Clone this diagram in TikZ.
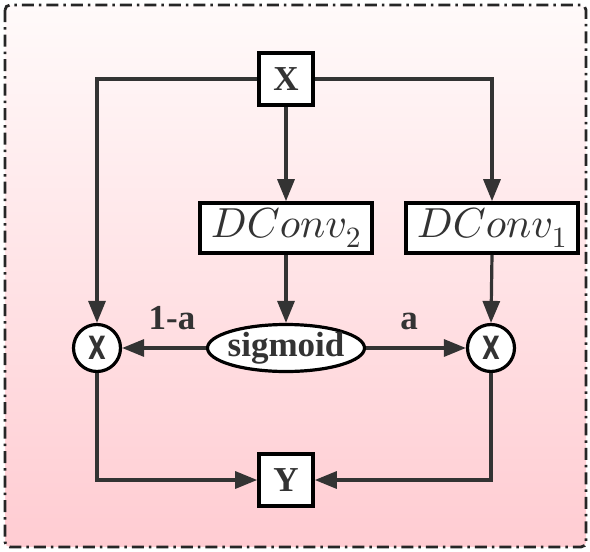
\documentclass[tikz,border=0pt]{standalone}
\usepackage{fontspec}
\setmainfont{Liberation Serif}
\newfontfamily\circfont{DejaVu Sans}
\DeclareFontFamily{OML}{cmm}{\skewchar\font'177}
\DeclareFontShape{OML}{cmm}{m}{it}{<-> cmmi10}{}
\DeclareFontShape{OT1}{cmr}{m}{n}{<-> cmr10}{}
\usetikzlibrary{arrows.meta,shapes.geometric}
\definecolor{ln}{HTML}{333333}
\definecolor{pinktop}{HTML}{FFFAFA}
\definecolor{pinkbot}{HTML}{FFCCD2}
\tikzset{
  conn/.style={draw=ln, line width=3.2pt, -{Triangle[length=22pt,width=17pt]}},
  sqbox/.style={draw=black, line width=3.6pt, fill=white, minimum width=54pt, minimum height=52pt, inner sep=0pt,
     font=\fontsize{35}{38}\selectfont\bfseries, text=ln},
  convbox/.style={draw=black, line width=3.6pt, fill=white, minimum width=172pt, minimum height=50pt, inner sep=0pt,
     font=\fontsize{42}{44}\selectfont, text=ln},
  mult/.style={circle, draw=black, line width=3.2pt, fill=white, minimum size=47pt, inner sep=0pt,
     font=\fontsize{32}{34}\circfont\bfseries, text=ln},
  sig/.style={ellipse, draw=black, line width=3.2pt, fill=white, minimum width=157pt, minimum height=47pt,
     inner xsep=-3pt, inner ysep=0pt,
     font=\fontsize{35}{38}\selectfont\bfseries, text=ln},
  lab/.style={font=\fontsize{35}{38}\selectfont\bfseries, text=ln},
  frame/.style={draw=black!85, line width=2.8pt, rounded corners=5pt, dash pattern=on 12pt off 5pt on 2.5pt off 5pt}
}
\begin{document}
\begin{tikzpicture}[x=1pt,y=-1pt]
\useasboundingbox (0,0) rectangle (590,552);
\shade[top color=pinktop, bottom color=pinkbot, rounded corners=5pt] (5,5) rectangle (586,547);
\draw[frame] (5,5) rectangle (586,547);

\node[sqbox] (x) at (286,79) {X};
\node[convbox] (dc2) at (286,228) {$DConv_2$};
\node[convbox] (dc1) at (492,228) {$DConv_1$};
\node[sig] (sg) at (286,348) {sigmoid};
\node[mult] (m1) at (97,348) {\scalebox{0.72}[1]{X}};
\node[mult] (m2) at (491,348) {\scalebox{0.72}[1]{X}};
\node[sqbox] (y) at (286,480) {Y};

\coordinate (tl) at (97,79);
\coordinate (tr) at (492,79);
\coordinate (bl) at (97,480);
\coordinate (br) at (491,480);

\draw[conn] (x) -- (dc2);
\draw[conn] (x.east) -- (tr) -- (dc1.north);
\draw[conn] (x.west) -- (tl) -- (m1.north);
\draw[conn] (dc2) -- (sg);
\draw[conn] (dc1.south) -- (m2.north);
\draw[conn] (sg) -- node[lab, above=13pt, xshift=8pt] {1-a} (m1);
\draw[conn] (sg) -- node[lab, above=13pt, xshift=-7pt] {a} (m2);
\draw[conn] (m1.south) -- (bl) -- (y.west);
\draw[conn] (m2.south) -- (br) -- (y.east);
\end{tikzpicture}
\end{document}
